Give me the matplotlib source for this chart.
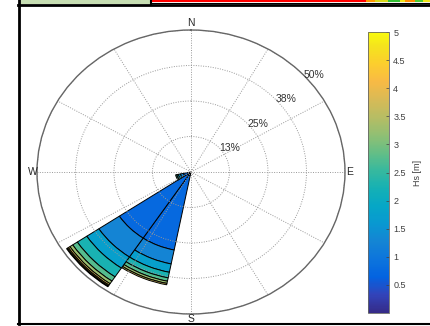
import numpy as np
import matplotlib
matplotlib.use("Agg")
import matplotlib.pyplot as plt
from matplotlib.colors import LinearSegmentedColormap, Normalize
from matplotlib.cm import ScalarMappable
from matplotlib.patches import Rectangle
from matplotlib.lines import Line2D

plt.rcParams["font.family"] = ["Liberation Sans", "DejaVu Sans"]

# ---- data -------------------------------------------------------------
# direction sectors (bearing of sector centre, degrees) and sector width
directions = [202.5, 225.0, 247.5]
sector_width = 22.5

# significant wave height classes [m]
hs_edges = [0.0, 0.5, 1.0, 1.5, 2.0, 2.5, 3.0, 3.5, 4.0, 4.5, 5.0]

# frequency of occurrence [%] per Hs class, one list per direction
freq_ssw = [1.2, 26.8, 5.0, 3.0, 2.0, 1.2, 0.8, 0.5, 0.0, 0.0]
freq_sw = [1.0, 27.0, 8.0, 4.7, 3.7, 1.8, 1.1, 0.6, 0.4, 0.3]
freq_wsw = [0.5, 2.0, 1.0, 0.7, 0.5, 0.4, 0.0, 0.0, 0.0, 0.0]

ring_values = [12.5, 25.0, 37.5, 50.0]
ring_labels = ["13%", "25%", "38%", "50%"]
compass_angles = [0, 90, 180, 270]
compass_labels = ["N", "E", "S", "W"]
cbar_ticks = [0.5, 1, 1.5, 2, 2.5, 3, 3.5, 4, 4.5, 5]
cbar_ticklabels = ["0.5", "1", "1.5", "2", "2.5", "3", "3.5", "4", "4.5", "5"]

# ---- parula-like colormap ---------------------------------------------
_parula_pts = [
    (0.2081, 0.1663, 0.5292), (0.1959, 0.2645, 0.7279), (0.0117, 0.3875, 0.8820),
    (0.0498, 0.4586, 0.8641), (0.0793, 0.5200, 0.8312), (0.0343, 0.5966, 0.8199),
    (0.0228, 0.6535, 0.7768), (0.0843, 0.6928, 0.7062), (0.2178, 0.7250, 0.6193),
    (0.3953, 0.7459, 0.5244), (0.5709, 0.7485, 0.4494), (0.7184, 0.7411, 0.3905),
    (0.8507, 0.7299, 0.3360), (0.9739, 0.7314, 0.2666), (0.9880, 0.8066, 0.1794),
    (0.9589, 0.8949, 0.1132), (0.9763, 0.9831, 0.0538),
]
_pos = [i / 63 for i in range(0, 61, 4)] + [1.0]
parula = LinearSegmentedColormap.from_list("parula", list(zip(_pos, _parula_pts)))
norm = Normalize(vmin=0, vmax=5)

# ---- figure -----------------------------------------------------------
W, H = 430, 326
fig = plt.figure(figsize=(W / 100, H / 100), dpi=100)


def fx(px):
    return px / W


def fy(py):
    return 1 - py / H


# header strip and frame
fig.patches.append(Rectangle((fx(20), fy(4)), fx(130), 4 / H, transform=fig.transFigure,
                             facecolor=(0.78, 0.87, 0.70), edgecolor="none"))
fig.patches.append(Rectangle((fx(152), fy(2)), fx(278), 2 / H, transform=fig.transFigure,
                             facecolor=(1.0, 0.0, 0.0), edgecolor="none"))
strip_tail = [(366, 375, (1.0, 0.6, 0.0)), (375, 388, (0.85, 0.85, 0.1)),
              (388, 400, (0.2, 0.75, 0.2)), (400, 405, (0.95, 0.9, 0.1)),
              (405, 415, (1.0, 0.55, 0.0)), (415, 423, (0.3, 0.8, 0.2)),
              (423, 430, (0.95, 0.9, 0.1))]
for x0, x1, c in strip_tail:
    fig.patches.append(Rectangle((fx(x0), fy(2)), fx(x1 - x0), 2 / H,
                                 transform=fig.transFigure, facecolor=c, edgecolor="none"))
frame_lines = [
    ((fx(150.5), fx(150.5)), (fy(0), fy(5)), 1.5),
    ((fx(152), fx(430)), (fy(2.6), fy(2.6)), 0.8),
    ((fx(18), fx(430)), (fy(5), fy(5)), 2.0),
    ((fx(19), fx(19)), (fy(0), fy(324)), 2.0),
    ((fx(18), fx(430)), (fy(324), fy(324)), 1.5),
]
for xs, ys, lw in frame_lines:
    fig.add_artist(Line2D(xs, ys, transform=fig.transFigure, color="black", lw=lw))

# ---- wind rose ----------------------------------------------------------
ax = fig.add_axes([fx(37), fy(314), fx(308), 284 / H], projection="polar")
ax.set_aspect("auto")
ax.set_theta_zero_location("N")
ax.set_theta_direction(-1)
ax.set_ylim(0, 50)

bin_mids = [(a + b) / 2 for a, b in zip(hs_edges[:-1], hs_edges[1:])]
for direction, freqs in zip(directions, [freq_ssw, freq_sw, freq_wsw]):
    bottom = 0.0
    for mid, f in zip(bin_mids, freqs):
        if f <= 0:
            continue
        ax.bar(np.radians(direction), f, width=np.radians(sector_width), bottom=bottom,
               color=parula(norm(mid)), edgecolor="black", linewidth=0.7, zorder=1)
        bottom += f

ax.set_xticks(np.radians(np.arange(0, 360, 30)))
ax.set_xticklabels([])
ax.set_yticks(ring_values)
ax.set_yticklabels([])
ax.grid(True, linestyle=(0, (1, 1.5)), color="0.6", linewidth=0.7)
ax.spines["polar"].set_color("0.4")
ax.spines["polar"].set_linewidth(1.0)

for r, lab in zip(ring_values, ring_labels):
    ax.text(np.radians(47), r, lab, ha="left", va="center", fontsize=7.5, color="0.2")
compass_radius = [52.3, 51.6, 51.6, 51.3]
for ang, lab, rr in zip(compass_angles, compass_labels, compass_radius):
    ax.text(np.radians(ang), rr, lab, ha="center", va="center", fontsize=7.5,
            color="0.15", clip_on=False)

# ---- colour bar ---------------------------------------------------------
cax = fig.add_axes([fx(368), fy(313), fx(21), 281 / H])
cb = fig.colorbar(ScalarMappable(norm=norm, cmap=parula), cax=cax, ticks=cbar_ticks)
cb.set_ticklabels(cbar_ticklabels)
cb.ax.tick_params(direction="in", length=2.5, width=0.5, labelsize=6.5, colors="0.25", pad=3)
cb.outline.set_linewidth(0.6)
cb.outline.set_edgecolor("0.4")
cb.set_label("Hs [m]", fontsize=6.5, color="0.25", labelpad=5)

fig.savefig("out.png", dpi=100)
